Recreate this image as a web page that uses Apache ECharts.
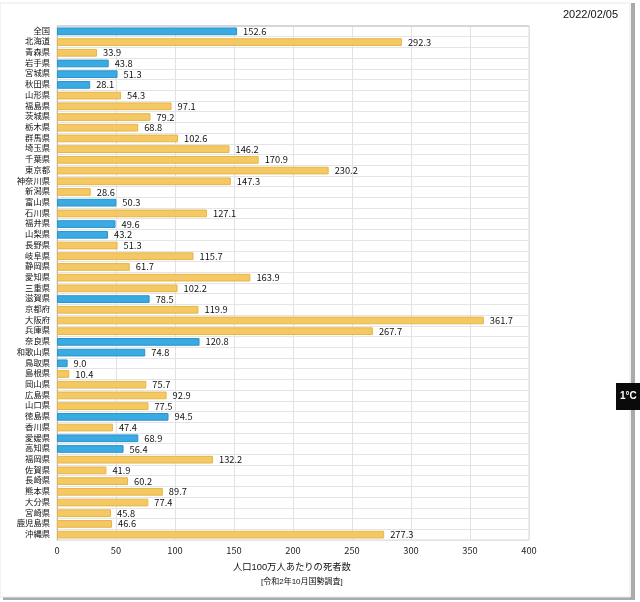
<!DOCTYPE html>
<html><head><meta charset="utf-8">
<script src="https://cdn.jsdelivr.net/npm/echarts@6/dist/echarts.min.js"></script>
<style>html,body{margin:0;padding:0;background:#fff;}#c{width:640px;height:602px;}</style>
</head><body><div id="c"></div>
<script>
const categories = ['全国','北海道','青森県','岩手県','宮城県','秋田県','山形県','福島県','茨城県','栃木県','群馬県','埼玉県','千葉県','東京都','神奈川県','新潟県','富山県','石川県','福井県','山梨県','長野県','岐阜県','静岡県','愛知県','三重県','滋賀県','京都府','大阪府','兵庫県','奈良県','和歌山県','鳥取県','島根県','岡山県','広島県','山口県','徳島県','香川県','愛媛県','高知県','福岡県','佐賀県','長崎県','熊本県','大分県','宮崎県','鹿児島県','沖縄県'];
const deathsPerMillion = [152.6,292.3,33.9,43.8,51.3,28.1,54.3,97.1,79.2,68.8,102.6,146.2,170.9,230.2,147.3,28.6,50.3,127.1,49.6,43.2,51.3,115.7,61.7,163.9,102.2,78.5,119.9,361.7,267.7,120.8,74.8,9.0,10.4,75.7,92.9,77.5,94.5,47.4,68.9,56.4,132.2,41.9,60.2,89.7,77.4,45.8,46.6,277.3];
const blueGroup = ['全国','岩手県','宮城県','秋田県','富山県','福井県','山梨県','滋賀県','奈良県','和歌山県','鳥取県','徳島県','愛媛県','高知県'];
const xTicks = [0,50,100,150,200,250,300,350,400];
const dateLabel = '2022/02/05';
const axisTitle1 = '人口100万人あたりの死者数';
const axisTitle2 = '[令和2年10月国勢調査]';
const tempLabel = '1°C';

const NARROW = '"Liberation Sans Narrow", "Arial Narrow", "Noto Sans CJK JP", sans-serif';
const FONT = '"Liberation Sans", Arial, "Noto Sans CJK JP", sans-serif';
const chart = echarts.init(document.getElementById('c'), null, {renderer:'canvas'});
const data = categories.map((c,i)=>{
  const blue = blueGroup.includes(c);
  return {value: deathsPerMillion[i], itemStyle: blue ? {color:'#3aabe2', borderColor:'#2a93cc', borderWidth:1} : {color:'#f4c862', borderColor:'#e6b548', borderWidth:1}};
});
chart.setOption({
  animation:false,
  backgroundColor:'#fff',
  textStyle:{fontFamily:FONT},
  grid:{left:57, right:111, top:26, bottom:62, show:true, borderColor:'#d8d8d8', borderWidth:1},
  xAxis:{type:'value', min:xTicks[0], max:xTicks[xTicks.length-1], interval:50,
    axisLine:{show:false}, axisTick:{show:false},
    axisLabel:{color:'#222', fontSize:9.3, fontFamily:NARROW, margin:6},
    splitLine:{show:true, lineStyle:{color:'#e2e2e2'}}},
  yAxis:{type:'category', data:categories, inverse:true,
    axisLine:{show:true, lineStyle:{color:'#bbb'}}, axisTick:{show:false},
    axisLabel:{color:'#111', fontSize:8.3, fontFamily:FONT, margin:7, interval:0},
    splitLine:{show:true, interval:0, lineStyle:{color:'#e4e4e4'}}},
  series:[{type:'bar', data:data, barWidth:'72%',
    label:{show:true, position:'right', distance:6, color:'#111', fontSize:9.3, fontFamily:NARROW,
      formatter:p=>Number(p.value).toFixed(1)}}],
  graphic:[
    {type:'rect', z:-10, shape:{x:631, y:3, width:4, height:597}, style:{fill:'#aaa'}},
    {type:'rect', z:-10, shape:{x:3, y:597, width:632, height:3}, style:{fill:'#aaa'}},
    {type:'rect', z:-9, shape:{x:0, y:3, width:630, height:594}, style:{fill:'#fff', stroke:'#e8e8e8', lineWidth:1}},
    {type:'line', z:10, shape:{x1:57, y1:26, x2:529, y2:26}, style:{stroke:'#d6d6d6', lineWidth:2}},
    {type:'text', left:563, top:9, style:{text:dateLabel, fill:'#111', font:'11px '+FONT}},
    {type:'text', left:233, top:563, style:{text:axisTitle1, fill:'#111', font:'9.3px '+FONT}},
    {type:'text', left:261, top:578, style:{text:axisTitle2, fill:'#111', font:'8px '+FONT}},
    {type:'rect', z:20, shape:{x:616, y:383, width:24, height:27}, style:{fill:'#0a0a0a'}},
    {type:'text', z:21, left:620, top:391, style:{text:tempLabel, fill:'#fff', font:'bold 10px '+FONT}}
  ]
});
</script></body></html>
